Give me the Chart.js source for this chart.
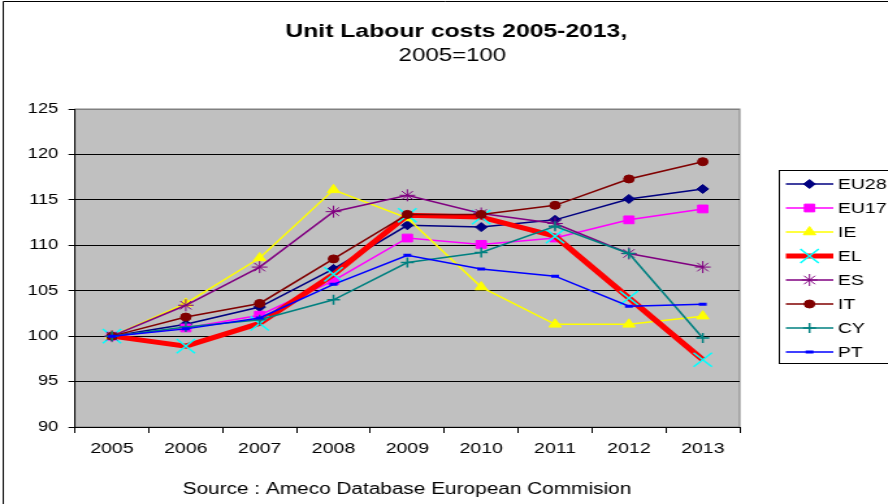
<!DOCTYPE html>
<html>
<head>
<meta charset="utf-8">
<script src="https://cdn.jsdelivr.net/npm/chart.js@4"></script>
<style>
  html, body { margin: 0; padding: 0; background: #fff; overflow: hidden; }
  /* the original picture is stretched sideways, so the canvas is too */
  #wrap { width: 888px; height: 504px; overflow: hidden; }
  #c { transform-origin: 0 0; transform: scaleX(1.3); }
</style>
</head>
<body>
<div id="wrap"><canvas id="c" width="683" height="504" style="width:683px;height:504px"></canvas></div>
<script>
// Unit labour costs, 2005 = 100
let years = ['2005','2006','2007','2008','2009','2010','2011','2012','2013'];
let eu28 = [100, 101.3, 103.2, 107.4, 112.2, 112.0, 112.8, 115.1, 116.2];
let eu17 = [100, 100.9, 102.3, 106.1, 110.8, 110.1, 110.8, 112.8, 114.0];
let ie   = [100, 103.6, 108.6, 116.1, 113.0, 105.4, 101.3, 101.3, 102.2];
let el   = [100, 98.9, 101.4, 106.8, 113.3, 113.1, 111.0, 104.2, 97.4];
let es   = [100, 103.4, 107.6, 113.7, 115.5, 113.5, 112.4, 109.1, 107.6];
let it   = [100, 102.1, 103.6, 108.5, 113.4, 113.4, 114.4, 117.3, 119.2];
let cy   = [100, 101.0, 101.8, 104.0, 108.1, 109.2, 112.1, 109.1, 99.8];
let pt   = [100, 100.8, 102.0, 105.7, 108.9, 107.4, 106.6, 103.3, 103.5];

let yMin = 90, yMax = 125, yStep = 5;

let titleText = 'Unit Labour costs 2005-2013,';
let subText = '2005=100';
let sourceText = 'Source : Ameco Database European Commision';

const FONT = "'Liberation Sans', Arial, sans-serif";
Chart.defaults.font.family = FONT;
Chart.defaults.color = '#000';

function line(label, data, color, style, radius, extra) {
  return Object.assign({
    label: label,
    data: data,
    borderColor: color,
    backgroundColor: color,
    borderWidth: 1.5,
    pointStyle: style,
    pointRadius: radius,
    pointBackgroundColor: color,
    pointBorderColor: color,
    pointBorderWidth: 1,
    tension: 0
  }, extra || {});
}

let datasets = [
  line('EU28', eu28, '#000080', 'rectRot', 4.5, {order: 8}),
  line('EU17', eu17, '#ff00ff', 'rect', 5.5, {order: 7}),
  line('IE', ie, '#ffff00', 'triangle', 5.5, {order: 6}),
  line('EL', el, '#ff0000', 'crossRot', 10, {order: 5, borderWidth: 5, pointBorderColor: '#00ffff', pointBackgroundColor: '#00ffff', pointBorderWidth: 1.5}),
  line('ES', es, '#800080', 'star', 6, {order: 4}),
  line('IT', it, '#800000', 'circle', 4, {order: 3}),
  line('CY', cy, '#008080', 'cross', 5, {order: 2, pointBorderWidth: 1.5}),
  line('PT', pt, '#0000ff', 'line', 3, {order: 1, pointBorderWidth: 3})
];

// grey plot area, frame, titles and the boxed legend
const decor = {
  id: 'decor',
  beforeDraw(chart) {
    const ctx = chart.ctx, a = chart.chartArea;
    ctx.save();
    ctx.fillStyle = '#fff';
    ctx.fillRect(0, 0, chart.width, chart.height);
    ctx.fillStyle = '#c0c0c0';
    ctx.fillRect(a.left, a.top, a.right - a.left, a.bottom - a.top);
    ctx.strokeStyle = '#808080';
    ctx.lineWidth = 1;
    ctx.strokeRect(a.left, a.top, a.right - a.left, a.bottom - a.top);
    ctx.strokeStyle = '#000';
    ctx.beginPath();
    ctx.moveTo(2.5, chart.height);
    ctx.lineTo(2.5, 1.5);
    ctx.lineTo(chart.width, 1.5);
    ctx.stroke();
    ctx.restore();
  },
  afterDraw(chart) {
    const ctx = chart.ctx;
    ctx.save();
    ctx.fillStyle = '#000';
    ctx.textAlign = 'center';
    ctx.textBaseline = 'alphabetic';
    ctx.font = 'bold 19px ' + FONT;
    ctx.fillText(titleText, 351, 37);
    ctx.font = '18.5px ' + FONT;
    ctx.fillText(subText, 348, 61);
    ctx.font = '16px ' + FONT;
    ctx.fillText(sourceText, 313, 494);

    // legend
    ctx.strokeStyle = '#000';
    ctx.lineWidth = 1;
    ctx.strokeRect(599.5, 170.5, 100, 193);
    ctx.font = '15px ' + FONT;
    ctx.textAlign = 'left';
    ctx.textBaseline = 'middle';
    chart.data.datasets.forEach(function(ds, i) {
      const y = 184 + i * 24;
      ctx.strokeStyle = ds.borderColor;
      ctx.lineWidth = ds.borderWidth;
      ctx.beginPath();
      ctx.moveTo(604.5, y);
      ctx.lineTo(641, y);
      ctx.stroke();
      ctx.fillStyle = ds.pointBackgroundColor;
      ctx.strokeStyle = ds.pointBorderColor;
      ctx.lineWidth = ds.pointBorderWidth;
      Chart.helpers.drawPoint(ctx, {
        pointStyle: ds.pointStyle, radius: ds.pointRadius, rotation: 0, borderWidth: ds.pointBorderWidth
      }, 622.7, y);
      ctx.fillStyle = '#000';
      ctx.fillText(ds.label, 644.5, y + 1);
    });
    ctx.restore();
  }
};

new Chart(document.getElementById('c').getContext('2d'), {
  type: 'line',
  data: { labels: years, datasets: datasets },
  options: {
    responsive: false,
    animation: false,
    devicePixelRatio: 1,
    layout: { padding: { top: 109, right: 114, bottom: 37, left: 0 } },
    plugins: { legend: { display: false }, tooltip: { enabled: false } },
    scales: {
      x: {
        offset: true,
        grid: { offset: true, drawOnChartArea: false, drawTicks: true, tickLength: 6, color: '#000' },
        border: { color: '#000' },
        ticks: { font: { size: 15 }, color: '#000', padding: 7, maxRotation: 0 },
        afterFit: function(s) { s.height = 40; }
      },
      y: {
        min: yMin, max: yMax,
        ticks: { stepSize: yStep, font: { size: 14 }, color: '#000', padding: 8 },
        grid: {
          color: function(c) { return c.tick && c.tick.value === yMax ? '#808080' : '#000'; },
          tickColor: '#000', tickLength: 5
        },
        border: { color: '#000' },
        afterFit: function(s) { s.width = 57.7; }
      }
    }
  },
  plugins: [decor]
});
</script>
</body>
</html>
